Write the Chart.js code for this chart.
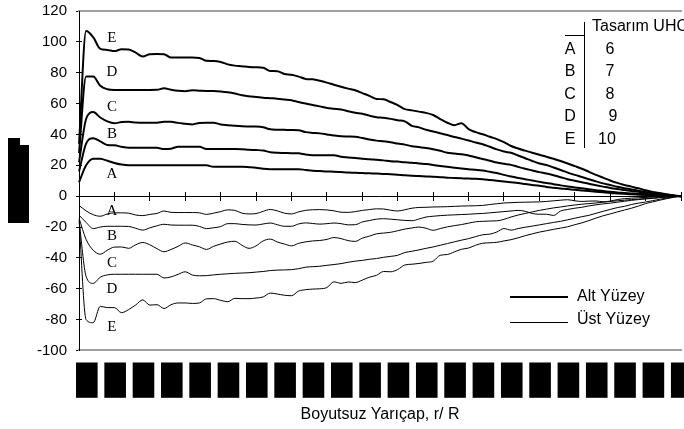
<!DOCTYPE html>
<html><head><meta charset="utf-8">
<script src="https://cdn.jsdelivr.net/npm/chart.js@4.4.1/dist/chart.umd.min.js"></script>
<style>html,body{margin:0;padding:0;background:#fff}#wrap{width:684px;height:429px;position:relative}</style>
</head><body><div id="wrap"><canvas id="c" width="684" height="429"></canvas></div>
<script>
// r/R categories
const categories = ["0,15","0,16","0,17","0,18","0,19","0,20","0,21","0,22","0,23","0,24",
"0,25","0,26","0,27","0,28","0,29","0,30","0,31","0,32","0,33","0,34",
"0,35","0,36","0,37","0,38","0,39","0,40","0,41","0,42","0,43","0,44",
"0,45","0,46","0,47","0,48","0,49","0,50","0,51","0,52","0,53","0,54",
"0,55","0,56","0,57","0,58","0,59","0,60","0,61","0,62","0,63","0,64",
"0,65","0,66","0,67","0,68","0,69","0,70","0,71","0,72","0,73","0,74",
"0,75","0,76","0,77","0,78","0,79","0,80","0,81","0,82","0,83","0,84",
"0,85","0,86","0,87","0,88","0,89","0,90","0,91","0,92","0,93","0,94",
"0,95","0,96","0,97","0,98","0,99","1,00"];
const labelEvery = 4;
const tickEvery = 5;
const yTicks = {min: -100, max: 120, step: 20};

// Alt Yüzey (thick)
const altA = [9,20,24.3,24.2,23,21.5,20.5,20,20,20,
20,20,20,20,20,20,20,20,20,19,
19,19,19,19,18.8,18.5,17.8,17.5,17.5,17.5,
17.5,17.5,17,16.5,16.3,16,15.9,15.6,15.3,15.2,
15,14.8,14.7,14.4,14.2,13.9,13.5,13.2,13,12.8,
12.6,12.3,12,11.8,11.6,11.4,11.3,11,10.5,10,
9.5,9,8.5,7.9,7.3,6.7,6,5.5,5,4.6,
4.1,3.7,3.3,2.9,2.5,2.1,1.8,1.5,1.2,1,
0.8,0.6,0.4,0.3,0.1,0];
const altB = [16,34,37.5,35.5,33.2,33,32,31.4,31.4,31.4,
31.4,31.4,30.5,30.8,32,32,32,32,30.5,30.5,
30.5,30.5,30.5,30.4,30.1,29.9,29.6,28.5,28.1,28,
27.9,27.8,27,26.6,26.6,26.6,26.6,25.5,25.1,24.7,
24.3,24,23.6,23.2,22.7,22.4,22,21.7,21.2,20.8,
20.2,19.5,19,18.5,18,17.5,17.1,16.6,15.8,15,
13.8,12.7,11.8,11,10.2,9.3,8.5,7.8,7,6.3,
5.7,5.1,4.5,3.9,3.3,2.8,2.4,2.1,1.8,1.5,
1.3,1,0.7,0.5,0.2,0];
const altC = [22,50,54.5,51,48.5,47.3,48,48.2,47.8,47.6,
47.6,47.6,48.2,48.2,47.5,47,46.5,47.5,47.6,47.6,
46.5,46,45.6,45.3,45.2,45.1,44.6,43.3,43.1,43,
42.9,42.8,41.5,41,40.7,40,39.3,38.8,38.7,38.5,
37.7,36.8,36,35.6,35,34.1,33.4,32.4,31.8,31.2,
30.4,29.4,28.2,27.7,27.1,26.4,25.2,24.1,23,21.8,
21,20.3,19,17.8,16.7,15.6,14.7,13.6,12.3,11,
10,9,8,7.1,6.2,5.3,4.6,4,3.4,2.8,
2.1,1.6,1.1,0.7,0.3,0];
const altD = [28,77.5,77.5,71.5,69.3,68.8,68.8,68.8,68.8,68.8,
68.8,68.9,69.9,69,68.3,68,68.6,68.4,68.2,68.1,
67.8,67.3,66.5,65.4,64.8,64.2,63.8,63.5,63.2,62.7,
62.2,61,60,59.1,58.2,57.2,56.7,56.2,55.1,54.1,
53.4,52.2,51.2,50.8,50.1,49.2,48.5,45.6,44.6,43,
41.9,40.8,39.6,38.4,37.3,36.1,34.8,33.7,32,30.3,
28.9,28.1,26.4,24.6,22.8,21.2,20.2,18.6,17,15.3,
13.8,12.4,11,9.6,8.3,7.2,6.1,5.2,4.4,3.5,
2.7,2,1.3,0.8,0.3,0];
const altE = [34,107,103,95.5,94.8,94,95.2,95,93,90.5,
92,92.1,92,89.8,89.8,89.8,89.8,89.6,87.7,87.6,
87,85.4,84.6,84.2,83.7,83.5,83.3,81.1,81,79.2,
78.7,77.5,76,75.7,74.8,73.6,72.2,70.9,69.7,68.6,
66.8,65,63,62.8,61,59,56.4,55.6,54.8,54,
52.6,50,47.6,46,47.3,43.5,41.5,40.1,38.5,37,
35,32.5,30.9,29.5,28.1,26.8,25.6,24.3,22.8,21.2,
19.5,17.8,15.8,13.8,12,10.2,8.6,7.3,6.2,5.1,
3.8,2.8,2,1.2,0.5,0];

// Üst Yüzey (thin)
const ustA = [-6,-9.5,-12,-13,-11.5,-10.8,-10.8,-11,-12.2,-12.6,
-11.8,-11.2,-9.6,-10.5,-10.6,-10.6,-10.6,-10.8,-11.8,-11,
-10,-8.9,-9.2,-11,-11.5,-11.3,-9.8,-8.6,-9.5,-11,
-11.5,-10.2,-9.2,-8.8,-8.7,-8.9,-9.5,-10.4,-10.5,-10,
-9.2,-8.7,-8.2,-8.3,-9.1,-9.6,-8.8,-7.8,-7.3,-7.2,
-7,-6.9,-6.8,-6.6,-6.4,-6.3,-6.2,-6,-5.4,-4.9,
-4.4,-4.2,-4,-3.9,-3.8,-3.7,-3.4,-3,-2.6,-2.3,
-3,-3.4,-3.2,-3.1,-3.6,-3.2,-2.2,-1.6,-1.3,-1,
-0.8,-0.6,-0.4,-0.3,-0.1,0];
const ustB = [-12.3,-17,-21,-20,-19.5,-19.5,-19.5,-19.6,-20.8,-22,
-20.5,-19.2,-18.2,-18.7,-18.8,-18.8,-18.8,-19.6,-21,-20.5,
-19.7,-17.8,-17.8,-18.3,-18.6,-18.7,-18,-17.4,-18.5,-19.5,
-19.5,-18,-17.3,-17.7,-18.1,-17.8,-17.4,-17.8,-18.6,-18.5,
-16.7,-15.8,-14.9,-14.6,-14.9,-15.3,-15.7,-15.9,-14.8,-13.5,
-13,-12.6,-12.3,-12.1,-11.9,-11.7,-11.4,-11.2,-10.8,-10.4,
-10,-9.6,-9.2,-9.8,-11.2,-11.7,-11.7,-12.5,-9.6,-8.6,
-7.8,-7.2,-6.3,-5.6,-5,-4.5,-3.9,-3.3,-2.7,-2.2,
-1.8,-1.4,-1,-0.6,-0.3,0];
const ustC = [-14.3,-28,-35,-37.6,-35,-33,-32.9,-33.8,-31.5,-30,
-31.5,-34,-36,-34.5,-32.5,-30.3,-31.6,-32.8,-34.5,-32.5,
-31,-29.7,-29.2,-31.8,-33.8,-32.2,-29,-27.8,-29.7,-31,
-32.2,-30.6,-29.6,-29,-28.7,-28,-26.8,-27.5,-28.8,-29.3,
-27.2,-25.9,-24.4,-23.9,-23.4,-22.4,-21.3,-20.6,-20,-20.8,
-22.1,-21,-19.9,-19.1,-18.4,-17.5,-16.6,-16.3,-16.1,-16,
-15,-13.5,-12.2,-11.2,-10.2,-9.2,-8.4,-7.6,-7,-6.3,
-5.7,-5.2,-4.8,-4.4,-3.9,-3.4,-3,-2.6,-2.2,-1.9,
-1.5,-1.2,-0.8,-0.5,-0.2,0];
const ustD = [-15.6,-52,-56.5,-52.5,-51,-50.6,-50.6,-50.6,-50.6,-50.6,
-50.6,-50.6,-53,-52.3,-50.6,-49,-51.1,-51.6,-51.5,-51,
-50.6,-50.3,-50,-49.8,-49.6,-49.2,-48.8,-48.2,-47.9,-47.8,
-47.6,-47,-46,-45.7,-45.4,-44.8,-44.3,-43.7,-42.8,-42.1,
-41.6,-40.9,-40.4,-39.6,-39,-38.3,-36.5,-35.7,-34.8,-33.8,
-32.9,-31.8,-30.7,-29.6,-28.5,-27.5,-26.2,-25,-24.6,-23.2,
-21,-22,-21,-20.1,-19.4,-18.6,-17.8,-17,-16.3,-15.3,
-14.3,-13.3,-12.4,-11.1,-9.8,-8.6,-7.4,-6.6,-5.4,-4.5,
-3.8,-2.9,-2,-1.2,-0.4,0];
const ustE = [-15.6,-80,-82,-71.4,-72.2,-72.2,-75.5,-73.5,-70.5,-67.2,
-70.6,-70.3,-72.8,-70.3,-69.2,-69.2,-69.5,-69.2,-66.5,-66.4,
-67.5,-68.4,-66.2,-66.4,-66.4,-66,-65.3,-62.8,-63.4,-64.2,
-64.5,-61.5,-60.6,-60.2,-60,-59.2,-55.5,-56.5,-55.6,-56,
-54.4,-52.5,-51.3,-48.8,-49,-47.5,-44.6,-44.1,-43.6,-42.9,
-42.1,-38.3,-37.8,-36.1,-34.4,-33.6,-31.8,-30.5,-30.2,-29.9,
-29,-28.2,-27,-25.6,-24.4,-23.3,-22.4,-21.5,-20.7,-19.8,
-18.5,-17.3,-15.8,-14.2,-12.7,-11.5,-10.2,-9,-7.8,-6.4,
-4.8,-3.7,-2.6,-1.6,-0.7,0];

const seriesNames = ['A','B','C','D','E'];
const designValues = ['6','7','8','9','10'];
const tableHeader = 'Tasarım UHO';
const legendLabels = ['Alt Yüzey', 'Üst Yüzey'];
const xTitle = 'Boyutsuz Yarıçap, r/ R';
const yTitle = 'Basınç Farkı';
// letter placement (category index, value)
const letterX = 4.65;
const altLetterY = [14.3, 40.2, 57.8, 80.5, 102.5];
const ustLetterY = [-9.7, -26, -43.5, -60.4, -85];

const SANS = "'Liberation Sans', Arial, sans-serif";
const SERIF = "'Liberation Serif', 'Times New Roman', serif";

const altSeries = [altA, altB, altC, altD, altE];
const ustSeries = [ustA, ustB, ustC, ustD, ustE];
const datasets = [];
altSeries.forEach((d, k) => datasets.push({label: 'Alt ' + seriesNames[k], data: d, borderColor: '#000', borderWidth: 2, xAxisID: 'x', yAxisID: 'y'}));
ustSeries.forEach((d, k) => datasets.push({label: 'Üst ' + seriesNames[k], data: d, borderColor: '#000', borderWidth: 1, xAxisID: 'x', yAxisID: 'y'}));

const overlay = {
  id: 'overlay',
  afterDraw(chart) {
    const ctx = chart.ctx, xs = chart.scales.x, ys = chart.scales.y;
    ctx.save();
    ctx.fillStyle = '#000';
    ctx.strokeStyle = '#000';
    // curve letters
    ctx.font = '15px ' + SERIF;
    ctx.textAlign = 'center';
    ctx.textBaseline = 'middle';
    const lx = xs.getPixelForValue(letterX);
    for (let k = 0; k < 5; k++) {
      ctx.fillText(seriesNames[k], lx, ys.getPixelForValue(altLetterY[k]));
      ctx.fillText(seriesNames[k], lx, ys.getPixelForValue(ustLetterY[k]));
    }
    // design table
    ctx.lineWidth = 1;
    ctx.beginPath();
    ctx.moveTo(584.5, 22); ctx.lineTo(584.5, 148);
    ctx.moveTo(565, 35.5); ctx.lineTo(584.5, 35.5);
    ctx.stroke();
    ctx.font = '16px ' + SANS;
    ctx.textAlign = 'left';
    ctx.fillText(tableHeader, 592, 27);
    const rowY = [50, 72, 95, 117, 140];
    const valX = [610, 610, 610, 613, 607];
    for (let k = 0; k < 5; k++) {
      ctx.textAlign = 'center';
      ctx.fillText(seriesNames[k], 570, rowY[k]);
      ctx.fillText(designValues[k], valX[k], rowY[k]);
    }
    // surface legend
    ctx.lineWidth = 2;
    ctx.beginPath(); ctx.moveTo(510, 297); ctx.lineTo(568, 297); ctx.stroke();
    ctx.lineWidth = 1;
    ctx.beginPath(); ctx.moveTo(510, 322.5); ctx.lineTo(568, 322.5); ctx.stroke();
    ctx.textAlign = 'left';
    ctx.fillText(legendLabels[0], 577, 297);
    ctx.fillText(legendLabels[1], 577, 320);
    // y-axis title (blacked out in reference)
    ctx.fillRect(8, 145, 21, 78);
    ctx.fillRect(8, 138, 12, 8);
    ctx.translate(18.5, 184);
    ctx.rotate(-Math.PI / 2);
    ctx.textAlign = 'center';
    ctx.fillText(yTitle, 0, 0, 74);
    ctx.restore();
  }
};

const tickMarkColor = c => (c.index % tickEvery === 0 ? '#000' : 'rgba(0,0,0,0)');

new Chart(document.getElementById('c'), {
  type: 'line',
  data: {labels: categories, datasets: datasets},
  options: {
    responsive: false,
    animation: false,
    devicePixelRatio: 1,
    layout: {padding: {left: 28, right: 3, top: 11, bottom: 0}},
    plugins: {legend: {display: false}, tooltip: {enabled: false}, title: {display: false}},
    elements: {point: {radius: 0}, line: {cubicInterpolationMode: 'monotone', fill: false}},
    scales: {
      x: {
        type: 'category', position: 'bottom',
        grid: {display: true, drawOnChartArea: false, drawTicks: true, tickLength: 15, tickColor: 'rgba(0,0,0,0)'},
        border: {display: true, color: '#a0a0a0', width: 2},
        ticks: {
          autoSkip: false, minRotation: 90, maxRotation: 90, padding: 2, color: '#000',
          font: {family: SANS, size: 13},
          callback: (v, i) => (i % labelEvery === 0 ? categories[i] : ''),
          showLabelBackdrop: c => c.index % labelEvery === 0,
          backdropColor: '#000',
          backdropPadding: {left: 5, right: 5, top: 3, bottom: 3}
        },
        title: {display: true, text: xTitle, color: '#000', font: {family: SANS, size: 16}, padding: {top: 10, bottom: 5}},
        afterFit: s => { s.paddingLeft = 0; s.paddingRight = 0; }
      },
      xt: {
        type: 'category', axis: 'x', position: 'top',
        grid: {display: true, drawOnChartArea: false, drawTicks: false}, ticks: {display: false},
        border: {display: true, color: '#a0a0a0', width: 2}
      },
      x2: {
        type: 'category', axis: 'x', position: {y: 0},
        grid: {drawOnChartArea: false, drawTicks: true, tickLength: 4, tickColor: tickMarkColor},
        ticks: {display: false},
        border: {display: true, color: '#000', width: 1}
      },
      x3: {
        type: 'category', axis: 'x', position: {y: 0},
        grid: {drawOnChartArea: false, drawTicks: true, tickLength: -4, tickColor: tickMarkColor},
        ticks: {display: false},
        border: {display: false}
      },
      y: {
        type: 'linear', position: 'left', min: yTicks.min, max: yTicks.max,
        ticks: {stepSize: yTicks.step, color: '#000', font: {family: SANS, size: 15}, padding: 9},
        grid: {drawOnChartArea: false, tickLength: 3, tickColor: '#000'},
        border: {display: true, color: '#000', width: 1},
        afterFit: s => { s.paddingTop = 0; s.paddingBottom = 0; }
      },
      y2: {
        type: 'linear', axis: 'y', position: {x: 0}, min: yTicks.min, max: yTicks.max,
        ticks: {display: false, stepSize: yTicks.step},
        grid: {drawOnChartArea: false, tickLength: -3, tickColor: '#000'},
        border: {display: false}
      }
    }
  },
  plugins: [overlay]
});
</script></body></html>
